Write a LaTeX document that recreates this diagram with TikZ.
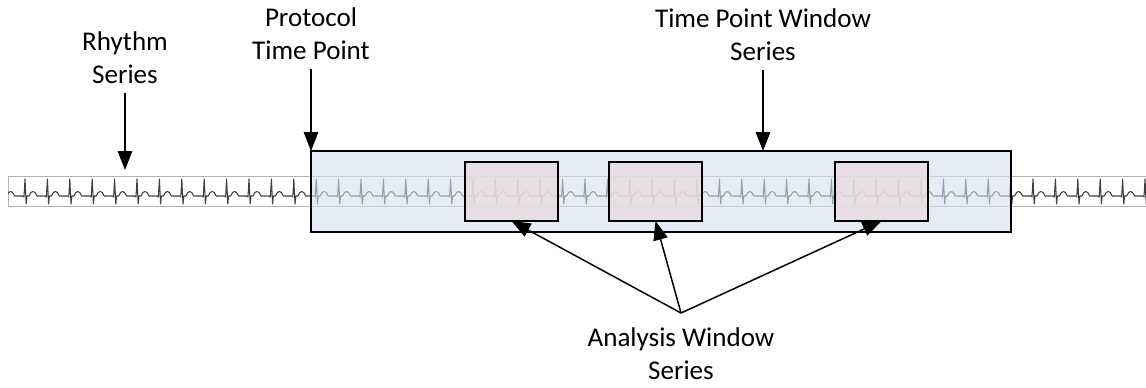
\documentclass[tikz,border=0pt]{standalone}
\usepackage{fontspec}
\setmainfont{Carlito}
\usetikzlibrary{arrows.meta, positioning}
\definecolor{stripGray}{HTML}{B4B4B4}
\definecolor{traceGray}{HTML}{404040}
\definecolor{tpwFill}{HTML}{D3DEF2}
\definecolor{awFill}{HTML}{E8DCE0}

\tikzset{
  lbl/.style={align=center, font=\fontsize{15.4}{18.7}\selectfont, inner sep=2pt, outer sep=3pt},
  ptr/.style={-{Triangle[length=0.38cm,width=0.29cm]}, line width=0.85pt},
  box/.style={draw, line width=1.1pt, inner sep=0pt, outer sep=0pt, anchor=north west},
  ecg/.style={traceGray, line width=0.6pt, line join=round},
}

\begin{document}
\begin{tikzpicture}[x=0.02cm, y=-0.02cm]
  \useasboundingbox (0,0) rectangle (1146,387);
  % rhythm strip
  \node[draw=stripGray, line width=0.5pt, inner sep=0pt, anchor=north west,
        minimum width=22.8cm, minimum height=0.6cm] (strip) at (8,176) {};
  \begin{scope}
    \clip (8,176) rectangle (1146,206);
    \foreach \i in {0,...,51}
      \draw[ecg] ({-2.4+22.4*\i},196) -- ++(3,0) -- ++(1,1) -- ++(1,-18)
        -- ++(1.2,25) -- ++(0.8,-8) -- ++(2,0) -- ++(2,-3.5) -- ++(2,-1)
        -- ++(2,1) -- ++(2,3.5) -- ++(5.4,0);
  \end{scope}
  % windows
  \node[box, fill=tpwFill, fill opacity=0.6, minimum width=14cm, minimum height=1.62cm] (tpw) at (311,151) {};
  \foreach \x/\n in {465/1, 609/2, 835/3}
    \node[box, fill=awFill, fill opacity=0.8, minimum width=1.86cm, minimum height=1.18cm] (aw\n) at (\x,162) {};
  % labels
  \node[lbl] (rhythm) at (125,58) {Rhythm\\Series};
  \node[lbl] (protocol) at (311,34) {Protocol\\Time Point};
  \node[lbl] (tpwlabel) at (763,35) {Time Point Window\\Series};
  \node[lbl] (awlabel) at (681,354) {Analysis Window\\Series};
  \coordinate (hub) at (681,313);
  \coordinate (rhythmtip) at (125,170);
  % arrows
  \draw[ptr] (rhythm) -- (rhythmtip);
  \draw[ptr] (protocol) -- (tpw.north west);
  \draw[ptr] (tpwlabel) -- (tpwlabel |- tpw.north);
  \foreach \n in {1,2,3}
    \draw[ptr] (hub) -- (aw\n.south);
\end{tikzpicture}
\end{document}
